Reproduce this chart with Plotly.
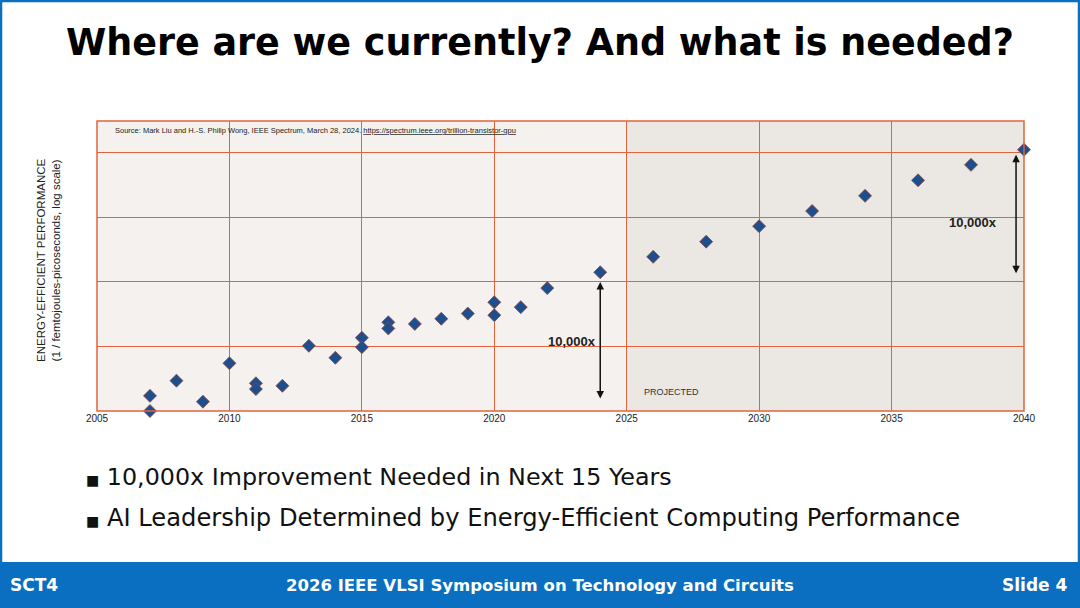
import plotly.graph_objects as go

years = [2007, 2007, 2008, 2009, 2010, 2011, 2011, 2012, 2013, 2014, 2015, 2015,
         2016, 2016, 2017, 2018, 2019, 2020, 2020, 2021, 2022, 2024,
         2026, 2028, 2030, 2032, 2034, 2036, 2038, 2040]
log_perf = [0.47, 0.0, 0.94, 0.29, 1.48, 0.86, 0.68, 0.78, 2.02, 1.65, 2.27, 1.98,
            2.75, 2.56, 2.70, 2.86, 3.02, 3.37, 2.97, 3.22, 3.81, 4.30,
            4.78, 5.25, 5.73, 6.20, 6.67, 7.15, 7.63, 8.10]
perf = [10 ** v for v in log_perf]
x_ticks = [2005, 2010, 2015, 2020, 2025, 2030, 2035, 2040]

grid = "#e2643c"
blue = "#0a6fc0"
W, H, L, R, T, B = 1080, 608, 97, 56, 121, 197
PW, PH = W - L - R, H - T - B


def px(x):
    return (x - L) / PW


def py(y):
    return (H - B - y) / PH


fig = go.Figure()
fig.add_trace(go.Scatter(x=years, y=perf, mode="markers", cliponaxis=False,
                         marker=dict(symbol="diamond", size=10, color="#1f4e8c",
                                     line=dict(color="#8a4a4a", width=0.8))))

shapes = [
    dict(type="rect", xref="x", yref="paper", x0=2025, x1=2040, y0=0, y1=1,
         fillcolor="#ebe7e2", line_width=0, layer="below"),
    dict(type="rect", xref="paper", yref="paper", x0=0, x1=1, y0=0, y1=1,
         line=dict(color=grid, width=1.5)),
    dict(type="rect", xref="paper", yref="paper", x0=px(1), x1=px(W - 1),
         y0=py(H), y1=py(1), line=dict(color=blue, width=2.5), layer="below"),
    dict(type="rect", xref="paper", yref="paper", x0=px(0), x1=px(W),
         y0=py(H + 2), y1=py(562), fillcolor=blue, line_width=0),
]

arrow = dict(xref="x", yref="y", axref="x", ayref="y", showarrow=True, arrowhead=2,
             startarrowhead=2, arrowside="end+start", arrowwidth=1.5, arrowsize=1,
             startarrowsize=1, arrowcolor="#111", text="")


def txt(x, y, text, size, color="#111", family="DejaVu Sans", xanchor="center", **kw):
    return dict(xref="paper", yref="paper", x=px(x), y=py(y), text=text, showarrow=False,
                xanchor=xanchor, yanchor="middle",
                font=dict(size=size, color=color, family=family), **kw)


ann = [
    dict(arrow, x=2024, y=4.0, ax=2024, ay=0.34),
    dict(arrow, x=2039.7, y=7.94, ax=2039.7, ay=4.22),
    dict(x=2022.93, y=2.17, text="<b>10,000x</b>", showarrow=False,
         font=dict(size=13, color="#222", family="Liberation Sans")),
    dict(x=2038.07, y=5.83, text="<b>10,000x</b>", showarrow=False,
         font=dict(size=13, color="#222", family="Liberation Sans")),
    dict(x=2026.7, y=0.59, text="PROJECTED", showarrow=False,
         font=dict(size=9, color="#333", family="Liberation Sans")),
    dict(x=2005.6, y=8.71, xanchor="left", showarrow=False,
         text="Source: Mark Liu and H.-S. Philip Wong, IEEE Spectrum, March 28, 2024. "
              "<u>https://spectrum.ieee.org/trillion-transistor-gpu</u>",
         font=dict(size=7.5, color="#222", family="Liberation Sans")),
    txt(48, 260, "ENERGY-EFFICIENT PERFORMANCE<br>(1 / femtojoules-picoseconds, log scale)",
        11.5, "#222", "Liberation Sans", textangle=-90),
    txt(540, 43, "<b>Where are we currently? And what is needed?</b>", 36.5, "#000"),
    txt(84, 477, "<span style='font-size:14px'>■</span> 10,000x Improvement Needed in Next 15 Years",
        23.8, xanchor="left"),
    txt(84, 518, "<span style='font-size:14px'>■</span> AI Leadership Determined by Energy-Efficient Computing Performance",
        24.2, xanchor="left"),
    txt(8, 585, "<b>SCT4</b>", 17, "white", xanchor="left"),
    txt(540, 585, "<b>2026 IEEE VLSI Symposium on Technology and Circuits</b>", 16.5, "white"),
    txt(1070, 585, "<b>Slide 4</b>", 17, "white", xanchor="right"),
]

fig.update_layout(
    width=W, height=H, margin=dict(l=L, r=R, t=T, b=B),
    paper_bgcolor="white", plot_bgcolor="#f4f1ee", showlegend=False,
    shapes=shapes, annotations=ann,
    xaxis=dict(range=[2005, 2040], tickvals=x_ticks, showgrid=True, gridcolor=grid,
               gridwidth=1.2, zeroline=False, ticks="",
               tickfont=dict(size=10, color="#222", family="Liberation Sans")),
    yaxis=dict(type="log", range=[0, 8.99], tickvals=[1e2, 1e4, 1e6, 1e8],
               showticklabels=False, showgrid=True, gridcolor=grid, gridwidth=1.2,
               zeroline=False, ticks=""),
)
fig.write_html("out.html", config={"displayModeBar": False},
               post_script="document.body.style.margin='0';")
